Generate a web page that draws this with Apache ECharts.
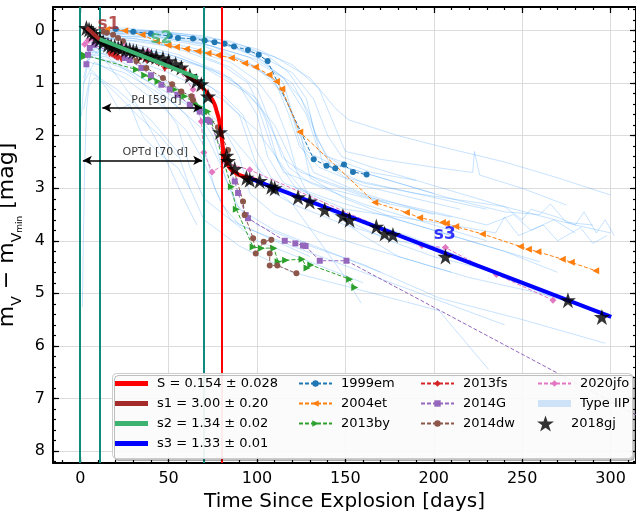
<!DOCTYPE html>
<html><head><meta charset="utf-8">
<script src="https://cdn.jsdelivr.net/npm/echarts@6/dist/echarts.min.js"></script>
<style>html,body{margin:0;padding:0;background:#fff}#c{width:636px;height:512px}</style>
</head><body><div id="c"></div>
<script>
// ---------------- DATA ----------------
const xTickLabels = [0, 50, 100, 150, 200, 250, 300];
const yTickLabels = [0, 1, 2, 3, 4, 5, 6, 7, 8];

const sn2018gj = [[3.5,-0.05],[5,-0.02],[6.3,0.01],[7.5,0.06],[9.2,0.14],[11,0.17],[13,0.22],[15.7,0.27],[17.5,0.29],[19.5,0.30],[21.5,0.33],[23.3,0.34],[26,0.36],[28,0.37],[30,0.39],[31.8,0.40],[35.5,0.44],[38,0.47],[40.3,0.49],[43,0.50],[46.8,0.53],[50,0.58],[54,0.64],[57.2,0.70],[62,0.86],[65.7,0.96],[68.5,1.02],[72.3,1.25],[79.1,1.93],[82.7,2.38],[83.6,2.48],[87.4,2.63],[94.0,2.80],[95.9,2.84],[101.5,2.86],[108.1,2.97],[110.0,3.0],[123.2,3.17],[129.8,3.25],[138.3,3.41],[148.6,3.53],[152.4,3.60],[167.5,3.73],[172.2,3.86],[176.9,3.89],[206.6,4.30],[275.9,5.13],[295.1,5.45]];
const sn1999em = [[20,-0.03],[30,0.02],[40,0.06],[50.6,0.10],[55.3,0.14],[63.8,0.15],[70.4,0.19],[76,0.22],[81.7,0.25],[87,0.30],[94.9,0.37],[101,0.46],[106,0.58],[132.1,2.45],[139.3,2.57],[144.3,2.62],[149.2,2.55],[154.3,2.69],[162,2.74]];
const sn2004et = [[14.8,-0.02],[25.2,0.0],[35,0.08],[43.1,0.2],[49.7,0.28],[54.4,0.31],[60,0.35],[66.6,0.39],[72.3,0.43],[77.9,0.47],[85.5,0.52],[93,0.62],[99.1,0.69],[106.8,0.84],[111,0.97],[114,1.11],[124.2,1.93],[166.6,3.27],[184.5,3.46],[192,3.56],[204.9,3.65],[207.1,3.67],[212.4,3.73],[227.5,3.87],[249,4.11],[253.5,4.16],[258.9,4.21],[272.7,4.35],[277.8,4.41],[291.6,4.57]];
const sn2013by = [[2,0.46],[2.5,0.49],[31.8,0.74],[36.5,0.85],[40.3,0.90],[44,0.97],[53.4,1.12],[57.2,1.19],[59.1,1.25],[64.8,1.38],[67.6,1.45],[72.3,1.54],[74.2,1.73],[85.5,2.97],[88.3,3.40],[97.8,4.12],[102.5,4.14],[109.6,4.14],[111.9,4.40],[116.2,4.37],[125.5,4.35],[128.3,4.52],[130.4,4.46],[152.4,4.73],[155.3,4.89]];
const sn2013fs = [[16.7,0.43],[17.6,0.43],[18.6,0.45],[19.5,0.47],[20.5,0.49],[21.4,0.50],[23.3,0.53],[37.4,0.55],[47.8,0.71],[59.1,0.75]];
const sn2014G = [[3.5,0.64],[4.4,0.46],[5.4,0.33],[8,0.27],[25.2,0.52],[28,0.56],[34.6,0.71],[40,0.85],[45.9,1.03],[50.6,1.12],[55,1.22],[62,1.41],[67.6,1.54],[71.4,1.70],[73.2,1.73],[87.4,2.87],[89.3,3.09],[93.6,3.51],[94.9,3.57],[115.7,4.0],[121.7,4.05],[126,4.09],[127.5,4.10],[135.5,4.38],[150.6,4.38],[418,9.17]];
const sn2014dw = [[13,0.02],[15,0.04],[18.6,0.08],[21.4,0.14],[24.2,0.20],[31.8,0.58],[37.4,0.71],[46.8,0.90],[52,1.02],[57.2,1.16],[62.9,1.25],[63.8,1.32],[77.9,1.84],[83.6,2.27],[92.1,3.25],[93,3.51],[97.8,3.95],[99.3,4.24],[103.8,4.02],[108.1,3.98],[107.2,4.24],[107.2,4.47],[111.5,4.47],[122.3,4.62]];
const sn2020jfo = [[2.5,0.26],[4.4,0.19],[7.2,0.15],[25,0.30],[38.4,0.39],[49.7,0.58],[55,0.72],[63.8,1.12],[68.5,1.73],[69.9,2.32],[74.6,2.69],[82.7,2.52],[95.9,2.65],[193.3,4.09],[206.6,4.13],[235.4,4.64],[267.4,5.13]];

const fitS  = [[60,0.85],[64,0.93],[66.5,0.99],[69.5,1.10],[72,1.20],[74.2,1.29],[76,1.40],[77,1.51],[78.2,1.65],[79,1.78],[79.9,2.0],[80.8,2.25],[82,2.43],[83.5,2.56],[85.5,2.65],[88,2.71],[90.2,2.75],[95.9,2.81],[100,2.85]];
const fitS1 = [[3.5,-0.06],[11,0.17]];
const fitS2 = [[11,0.16],[66.6,0.90]];
const fitS3 = [[96,2.81],[300.4,5.45]];

const tealLines = [0, 11, 70];
const redLines = [80];
const pdArrow = [[12.5,1.47],[69,1.47]];
const optdArrow = [[1.5,2.47],[69,2.47]];
const labelPos = { s1:[16,-0.11], s2:[45.9,0.16], s3:[206.2,3.89], pd:[43.1,1.32], optd:[42.5,2.31] };

const iip01 = [[5,0.25],[15,0.05],[30,0.0],[50,0.05],[70,0.15],[90,0.35],[105,0.6],[115,1.0],[122,1.8],[128,2.3],[140,2.5],[170,2.8],[200,3.1]];
const iip02 = [[8,0.2],[20,0.02],[40,0.02],[60,0.1],[80,0.25],[100,0.45],[120,0.8],[132,1.3],[140,2.0],[148,2.4],[165,2.6],[200,2.95],[240,3.35],[280,3.7],[300,3.85]];
const iip03 = [[10,0.1],[30,0.03],[60,0.1],[90,0.3],[110,0.5],[130,0.9],[145,1.5],[152,1.7],[180,2.0],[203,2.2],[240,2.5],[270,2.8],[300,3.13]];
const iip04 = [[6,0.3],[20,0.1],[45,0.15],[70,0.3],[95,0.6],[110,0.95],[118,1.6],[124,2.2],[135,2.6],[160,2.95],[190,3.2],[215,3.4]];
const iip05 = [[4,0.4],[15,0.15],[35,0.2],[60,0.35],[85,0.7],[100,1.1],[108,1.8],[114,2.4],[125,2.7],[150,3.0],[175,3.3]];
const iip06 = [[12,0.05],[35,0.05],[65,0.2],[95,0.5],[115,0.9],[125,1.3],[135,2.1],[142,2.6],[160,2.9],[190,3.1],[220,3.25],[240,3.35],[250,3.6],[255,3.4],[270,3.55],[280,3.7],[285,3.45],[292,3.85],[297,3.6],[302,3.9]];
const iip07 = [[3,0.5],[12,0.2],[30,0.25],[55,0.45],[80,0.8],[100,1.3],[110,2.0],[118,2.6],[130,2.9],[160,3.3],[200,3.7],[230,4.0]];
const iip08 = [[15,0.0],[40,0.0],[70,0.1],[100,0.35],[120,0.65],[135,1.1],[145,1.9],[150,2.3],[170,2.45],[200,2.6],[222,2.7],[223,2.3],[226,2.75],[250,3.0],[275,3.32]];
const iip09 = [[8,0.4],[25,0.3],[50,0.45],[75,0.75],[90,1.05],[100,1.6],[106,2.4],[115,2.9],[140,3.2],[170,3.5],[200,3.8],[240,4.2],[270,4.6]];
const iip10 = [[5,0.2],[20,0.1],[40,0.2],[60,0.4],[80,0.65],[95,1.0],[105,1.7],[112,2.5],[122,3.0],[150,3.4],[180,3.55],[210,3.7],[235,3.85],[240,3.55],[248,3.9],[262,3.7],[270,4.0],[283,3.75],[290,4.05],[298,3.9]];
const iip11 = [[3,0.6],[10,0.4],[30,0.7],[50,1.1],[65,1.5],[75,2.0],[82,2.8],[90,3.4],[110,3.8],[140,4.2],[170,4.6]];
const iip12 = [[5,0.5],[20,0.6],[40,1.0],[60,1.6],[70,2.2],[76,3.0],[85,3.6],[100,4.0],[130,4.4],[160,4.8]];
const iip13 = [[2,1.0],[8,0.6],[25,0.9],[45,1.4],[60,1.9],[70,2.5],[80,3.3],[90,3.7],[120,4.1],[160,4.6],[200,5.1],[240,5.6]];
const iip14 = [[7,0.3],[30,0.6],[60,1.2],[80,1.8],[90,2.4],[96,3.1],[110,3.5],[140,3.9],[180,4.3],[220,4.7],[260,5.0],[300,5.4]];
const iip15 = [[5,0.6],[25,0.8],[50,1.3],[70,1.9],[80,2.6],[88,3.3],[100,3.7],[130,4.1],[160,4.45],[203,5.09],[250,5.5],[297,5.95]];
const iip16 = [[2,1.5],[6,0.8],[20,1.1],[40,1.7],[55,2.3],[62,3.0],[70,3.6],[90,4.1],[120,4.6],[160,4.95],[203,5.33],[231,6.45]];
const iip17 = [[10,0.2],[30,0.35],[55,0.7],[75,1.1],[90,1.6],[98,2.4],[105,3.0],[120,3.3],[150,3.7],[180,4.0],[203,4.17],[240,4.7],[266,5.06]];
const iip18 = [[1.2,5.26],[1.8,4.0],[2.5,2.6],[3.5,1.5],[5,1.05],[8,0.9],[14,1.0],[22,1.25],[32,1.6],[45,2.0],[55,2.4]];
const iip19 = [[5,0.3],[15,0.6],[30,1.3],[45,2.2],[60,3.3],[66,3.7]];
const iip20 = [[0.7,1.63],[2,1.0],[4,0.7],[8,0.8],[15,1.1],[22,1.5],[28,1.4],[35,2.0],[45,2.35],[55,2.6],[62,3.0]];
const iip21 = [[8,0.5],[30,0.8],[60,1.4],[85,2.0],[100,2.6],[110,3.0],[120,3.3],[135,4.0],[150,4.7],[159,5.19]];
const iip22 = [[5,0.4],[25,0.5],[50,0.8],[80,1.3],[100,1.9],[115,2.6],[125,3.0],[140,3.4],[160,3.9],[180,4.3],[210,4.6]];
const iip23 = [[10,0.3],[40,0.4],[70,0.7],[95,1.2],[110,1.8],[120,2.5],[130,3.2],[150,3.6],[175,4.0],[200,4.3],[230,4.55]];
const iip24 = [[4,0.1],[20,0.0],[50,0.1],[80,0.25],[100,0.5],[115,0.9],[128,1.6],[135,2.3],[150,2.6],[180,2.9],[210,3.2],[240,3.45],[260,3.5],[266,3.3],[275,3.65],[290,3.7]];
const iip25 = [[6,0.0],[25,-0.05],[55,0.05],[85,0.2],[105,0.45],[118,0.8],[128,1.3],[133,2.0],[140,2.4],[165,2.7],[190,2.85]];
const iip26 = [[3,0.7],[8,0.35],[20,0.3],[40,0.5],[60,0.8],[80,1.2],[92,1.6],[100,2.3],[108,2.8],[120,3.1],[150,3.5],[185,3.9],[215,4.3]];
const iip27 = [[9,0.15],[30,0.2],[60,0.35],[85,0.6],[100,0.95],[110,1.4],[117,2.0],[122,2.6],[135,2.85],[160,3.15],[200,3.45],[230,3.7],[245,3.5],[255,3.8],[268,3.6],[280,3.85]];
const iip28 = [[2,0.9],[5,0.45],[15,0.5],[30,0.85],[45,1.3],[55,1.8],[62,2.6],[70,3.2],[85,3.6],[110,4.0],[130,4.3]];
const iip29 = [[10,0.05],[40,0.1],[70,0.25],[100,0.55],[120,1.0],[130,1.6],[137,2.5],[150,2.8],[190,3.1],[230,3.4]];
const iip30 = [[6,0.15],[30,0.15],[60,0.3],[90,0.55],[108,0.9],[118,1.4],[124,2.1],[132,2.7],[160,3.1],[200,3.5]];
const iip31 = [[14,0.1],[45,0.12],[75,0.3],[100,0.7],[115,1.2],[125,2.0],[130,2.8],[150,3.2],[180,3.6],[220,4.0],[260,4.4]];
const iip32 = [[4,0.3],[25,0.25],[55,0.5],[85,0.9],[100,1.4],[108,2.2],[115,2.7],[140,3.0],[175,3.3],[210,3.55]];
const typeIIPLines = [iip01,iip02,iip03,iip04,iip05,iip06,iip07,iip08,iip09,iip10,iip11,iip12,iip13,iip14,iip15,iip16,iip17,iip18,iip19,iip20,iip21,iip22,iip23,iip24,iip25,iip26,iip27,iip28,iip29,iip30,iip31,iip32];

// ---------------- STYLE / LAYOUT ----------------
const FONT = 'DejaVu Sans';
const xMin = -15.4, xMax = 314.4, yMin = -0.45, yMax = 8.23;
const xMinor = []; for (let v = -10; v <= 310; v += 10) xMinor.push(v);
const yMinor = []; for (let i = -2; i <= 41; i++) yMinor.push(+(i * 0.2).toFixed(1));
const STAR = 'path://M50,0 L61.8,35.1 L98.9,35.1 L69.1,56.7 L80.9,91.9 L50,70.2 L19.1,91.9 L30.9,56.7 L1.1,35.1 L38.2,35.1 Z';
const IIP_COLOR = 'rgba(30,144,255,0.25)';
const TEAL = '#0f8a7d';

const N = {
  S: 'S = 0.154 ± 0.028', s1: 's1 = 3.00 ± 0.20', s2: 's2 = 1.34 ± 0.02', s3: 's3 = 1.33 ± 0.01',
  iip: 'Type IIP'
};

function xAxisDef(pos, ticks, len, showLabel, showLine, showSplit) {
  return {
    type: 'value', position: pos, min: xMin, max: xMax, gridIndex: 0,
    axisLine: { show: showLine, onZero: false, lineStyle: { color: '#000', width: 2 } },
    axisTick: { show: true, inside: true, length: len, customValues: ticks, lineStyle: { color: '#000', width: 1.2 } },
    axisLabel: { show: showLabel, customValues: ticks, color: '#000', fontSize: 16, fontFamily: FONT, margin: 8 },
    splitLine: { show: showSplit, lineStyle: { color: '#dcdcdc', width: 1 } },
    name: showLabel ? 'Time Since Explosion [days]' : '', nameLocation: 'middle', nameGap: 26,
    nameTextStyle: { fontSize: 20, color: '#000', fontFamily: FONT }
  };
}
function yAxisDef(pos, ticks, len, showLabel, showLine, showSplit) {
  return {
    type: 'value', position: pos, min: yMin, max: yMax, inverse: true, gridIndex: 0,
    axisLine: { show: showLine, onZero: false, lineStyle: { color: '#000', width: 2 } },
    axisTick: { show: true, inside: true, length: len, customValues: ticks, lineStyle: { color: '#000', width: 1.2 } },
    axisLabel: { show: showLabel, customValues: ticks, color: '#000', fontSize: 16, fontFamily: FONT, margin: 8 },
    splitLine: { show: showSplit, lineStyle: { color: '#dcdcdc', width: 1 } },
    name: showLabel ? '{a|m}{b|V}{a| − m}{b|V}{c|min}{a| [mag]}' : '', nameLocation: 'middle', nameGap: 22, nameRotate: 90,
    nameTextStyle: { color: '#000', fontFamily: FONT,
      rich: {
        a: { fontSize: 22, lineHeight: 34, fontFamily: FONT, color: '#000' },
        b: { fontSize: 14, lineHeight: 16, verticalAlign: 'bottom', fontFamily: FONT, color: '#000' },
        c: { fontSize: 9, lineHeight: 8, verticalAlign: 'bottom', fontFamily: FONT, color: '#000' }
      } }
  };
}

const series = [];
typeIIPLines.forEach(function (d) {
  series.push({ name: N.iip, type: 'line', data: d, symbol: 'none', z: 1, silent: true,
    itemStyle: { color: IIP_COLOR }, lineStyle: { color: IIP_COLOR, width: 1 } });
});
series.push({ name: 'vlines', type: 'line', data: [], z: 2, silent: true,
  markLine: { silent: true, symbol: ['none', 'none'], label: { show: false }, animation: false,
    lineStyle: { color: TEAL, width: 2, type: 'solid' },
    data: tealLines.map(v => ({ xAxis: v })) } });
series.push({ name: 'vlinesRed', type: 'line', data: [], z: 2, silent: true,
  markLine: { silent: true, symbol: ['none', 'none'], label: { show: false }, animation: false,
    lineStyle: { color: '#ff0000', width: 2, type: 'solid' },
    data: redLines.map(v => ({ xAxis: v })) } });
series.push({ name: 'arrows', type: 'line', data: [], z: 7, silent: true,
  markLine: { silent: true, symbol: ['arrow', 'arrow'], symbolSize: [7, 9], label: { show: false }, animation: false,
    lineStyle: { color: '#000', width: 1.5, type: 'solid' },
    data: [[{ coord: pdArrow[0] }, { coord: pdArrow[1] }], [{ coord: optdArrow[0] }, { coord: optdArrow[1] }]] } });

function snSeries(name, data, color, symbol, size, rot) {
  return { name: name, type: 'line', data: data, z: 3, symbol: symbol, symbolSize: size, symbolRotate: rot || 0,
    showSymbol: true, silent: true,
    itemStyle: { color: color }, lineStyle: { color: color, width: 1, type: [4, 2] } };
}
series.push(snSeries('1999em', sn1999em, '#1f77b4', 'circle', 6));
series.push(snSeries('2004et', sn2004et, '#ff7f0e', 'triangle', 7, 90));
series.push(snSeries('2013by', sn2013by, '#2ca02c', 'triangle', 7, -90));
series.push(snSeries('2013fs', sn2013fs, '#d62728', 'diamond', [5, 8]));
series.push(snSeries('2014G', sn2014G, '#9467bd', 'rect', 6));
series.push(snSeries('2014dw', sn2014dw, '#8c564b', 'circle', 6));
series.push(snSeries('2020jfo', sn2020jfo, '#e377c2', 'diamond', 7));

function fitSeries(name, data, color, z, smooth) {
  return { name: name, type: 'line', data: data, symbol: 'none', z: z, silent: true, smooth: smooth || false,
    itemStyle: { color: color }, lineStyle: { color: color, width: 4 } };
}
series.push(fitSeries(N.S, fitS, '#ff0000', 4, 0.3));
series.push(fitSeries(N.s3, fitS3, '#0000ff', 4));
series.push({ name: '2018gj', type: 'scatter', data: sn2018gj, symbol: STAR, symbolSize: 16, z: 5, silent: true,
  itemStyle: { color: '#000' } });
series.push(fitSeries(N.s1, fitS1, '#a52a2a', 6));
series.push(fitSeries(N.s2, fitS2, '#3cb371', 6));

function textMark(pos, text, color, size, bold) {
  return { value: pos, label: { show: true, position: 'inside', formatter: text, color: color, fontSize: size,
    fontWeight: bold ? 'bold' : 'normal', fontFamily: FONT } };
}
series.push({ name: 'labels', type: 'scatter', symbolSize: 0, z: 8, silent: true,
  itemStyle: { color: 'transparent' },
  data: [
    textMark(labelPos.s1, 's1', '#a52a2a', 17, true),
    textMark(labelPos.s2, 's2', '#3cb371', 17, true),
    textMark(labelPos.s3, 's3', '#0000ff', 17, true),
    textMark(labelPos.pd, 'Pd [59 d]', '#000', 11, false),
    textMark(labelPos.optd, 'OPTd [70 d]', '#000', 11, false)
  ] });

const BAR5 = 'path://M0,0H33V5H0Z';
const BAR7 = 'path://M0,0H33V7H0Z';
function legendDef(left, top, data, itemHeight) {
  return { show: true, orient: 'vertical', left: left, top: top, itemWidth: 33, itemHeight: itemHeight || 8,
    itemGap: 6, selectedMode: false, z: 10, padding: 0,
    textStyle: { fontSize: 13, lineHeight: 14, color: '#000', fontFamily: FONT, padding: [0, 0, 0, 4] },
    data: data };
}

const option = {
  animation: false,
  textStyle: { fontFamily: FONT },
  grid: { left: 53, top: 7, width: 583, height: 456, containLabel: false, outerBoundsMode: 'none' },
  xAxis: [
    xAxisDef('bottom', xTickLabels, 6, true, true, true),
    xAxisDef('bottom', xMinor, 3, false, false, false),
    xAxisDef('top', xTickLabels, 6, false, true, false),
    xAxisDef('top', xMinor, 3, false, false, false)
  ],
  yAxis: [
    yAxisDef('left', yTickLabels, 6, true, true, true),
    yAxisDef('left', yMinor, 3, false, false, false),
    yAxisDef('right', yTickLabels, 6, false, true, false),
    yAxisDef('right', yMinor, 3, false, false, false)
  ],
  legend: [
    legendDef(115, 376.5, [{ name: N.S, icon: BAR5 }, { name: N.s1, icon: BAR5 }, { name: N.s2, icon: BAR5 }, { name: N.s3, icon: BAR5 }]),
    legendDef(298, 376.5, ['1999em', '2004et', '2013by']),
    legendDef(420, 376.5, ['2013fs', '2014G', '2014dw']),
    legendDef(537, 376.5, ['2020jfo', { name: N.iip, icon: BAR7, itemStyle: { color: '#cfe3f8' } }]),
    legendDef(537, 415.5, ['2018gj'], 16)
  ],
  graphic: [
    { type: 'rect', left: 112, top: 373, z: 9, silent: true,
      shape: { width: 520, height: 85, r: 4 },
      style: { fill: 'rgba(255,255,255,0.92)', stroke: '#cccccc', lineWidth: 1,
        shadowColor: 'rgba(0,0,0,0.25)', shadowOffsetX: 2, shadowOffsetY: 2, shadowBlur: 0 } }
  ],
  series: series
};
const chart = echarts.init(document.getElementById('c'), null, { renderer: 'canvas' });
chart.setOption(option);
</script>
</body></html>
